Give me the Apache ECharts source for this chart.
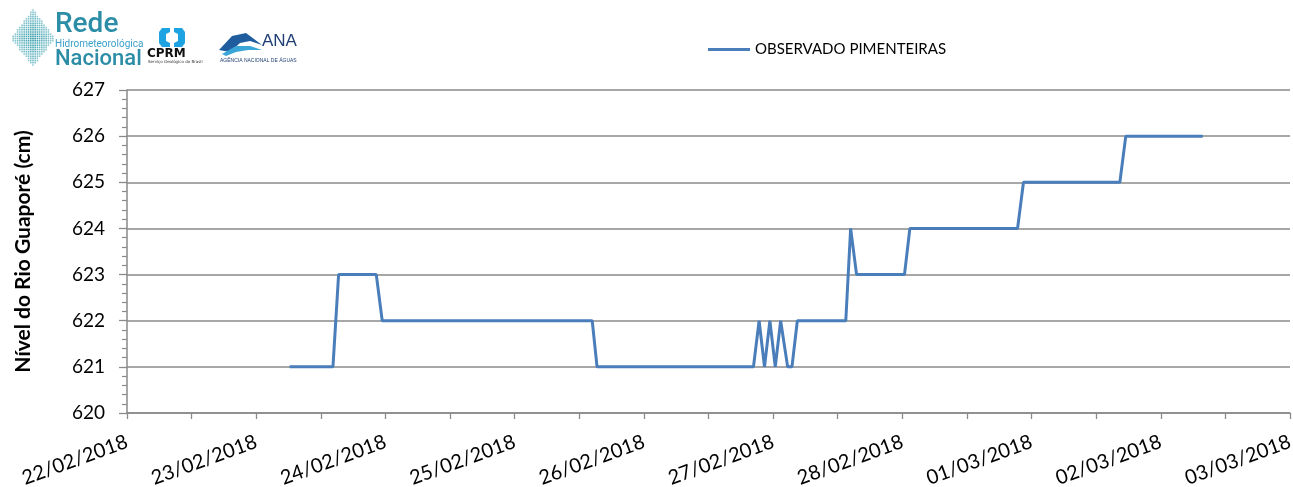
<!DOCTYPE html>
<html>
<head>
<meta charset="utf-8">
<script src="https://cdn.jsdelivr.net/npm/echarts@6/dist/echarts.min.js"></script>
<style>
html,body{margin:0;padding:0;background:#fff;}
#chart{width:1293px;height:487px;}
</style>
</head>
<body>
<div id="chart"></div>
<script>
// ---- data ----
const seriesName = 'OBSERVADO PIMENTEIRAS';
const times = [
  '2018-02-23T06:12', '2018-02-23T14:15', '2018-02-23T15:18', '2018-02-23T22:18',
  '2018-02-23T23:24', '2018-02-25T14:24', '2018-02-25T15:18', '2018-02-26T20:21',
  '2018-02-26T21:24', '2018-02-26T22:24', '2018-02-26T23:24', '2018-02-27T00:24',
  '2018-02-27T01:24', '2018-02-27T02:42', '2018-02-27T03:30', '2018-02-27T04:30',
  '2018-02-27T13:30', '2018-02-27T14:24', '2018-02-27T15:30', '2018-02-28T00:24',
  '2018-02-28T01:24', '2018-02-28T21:24', '2018-02-28T22:30', '2018-03-01T16:24',
  '2018-03-01T17:30', '2018-03-02T07:48'
];
const levels = [
  621, 621, 623, 623,
  622, 622, 621, 621,
  622, 621, 622, 621,
  622, 621, 621, 622,
  622, 624, 623, 623,
  624, 624, 625, 625,
  626, 626
];
const xStart = '2018-02-22T00:00';
const xEnd = '2018-03-03T00:00';
const yMin = 620, yMax = 627, yStep = 1;
const yAxisTitle = 'Nível do Rio Guaporé (cm)';

// ---- helpers ----
function toMs(s) {
  const [d, t] = s.split('T');
  const [Y, M, D] = d.split('-').map(Number);
  const [h, m] = t.split(':').map(Number);
  return Date.UTC(Y, M - 1, D, h, m);
}
function pad(n) { return (n < 10 ? '0' : '') + n; }
const HALF_DAY = 12 * 3600 * 1000;
const DAY = 24 * 3600 * 1000;
const seriesData = times.map((t, i) => [toMs(t), levels[i]]);

const FONT = 'Lato, "Open Sans", sans-serif';
const GRID_COLOR = '#8a8a8a';

// ---- logo graphics (decoration) ----
const graphics = [];
(function () {
  const cx = 33, cy = 38, r = 22;
  for (let gy = -28; gy <= 28; gy += 2.2) {
    for (let gx = -22; gx <= 22; gx += 2.2) {
      const dist = Math.abs(gx) / r + Math.abs(gy) / 29;
      if (dist > 1) continue;
      const shade = 0.35 + 0.65 * (1 - dist);
      const c1 = [40, 150, 165], c2 = [200, 230, 235];
      const col = c1.map((v, k) => Math.round(c2[k] + (v - c2[k]) * shade));
      graphics.push({
        type: 'rect', silent: true,
        shape: { x: cx + gx - 0.8, y: cy + gy - 0.8, width: 1.6, height: 1.6 },
        style: { fill: 'rgb(' + col.join(',') + ')' }
      });
    }
  }
})();
graphics.push(
  { type: 'text', left: 55, top: 11, style: { text: 'Rede', font: '500 28px "Liberation Sans Narrow", Roboto, sans-serif', fill: '#2b8da6' } },
  { type: 'text', left: 55, top: 39, style: { text: 'Hidrometeorológica', font: '10px "Liberation Sans Narrow", Roboto, sans-serif', fill: '#3aa0c9' } },
  { type: 'text', left: 55, top: 48, style: { text: 'Nacional', font: '500 22px "Liberation Sans Narrow", Roboto, sans-serif', fill: '#2b8da6' } },
  { type: 'polygon', shape: { points: [[162,28],[170,28],[170,32],[166,34],[166,41],[170,43],[170,47],[162,47],[159,43],[159,32]] }, style: { fill: '#1ea3e2' } },
  { type: 'polygon', shape: { points: [[174,28],[182,28],[185,32],[185,43],[182,47],[174,47],[174,43],[178,41],[178,34],[174,32]] }, style: { fill: '#1ea3e2' } },
  { type: 'text', left: 147, top: 48, style: { text: 'CPRM', font: 'bold 12px "DejaVu Sans", sans-serif', fill: '#111' } },
  { type: 'text', left: 148, top: 60, style: { text: 'Serviço Geológico do Brasil', font: '4px "DejaVu Sans", sans-serif', fill: '#333' } },
  { type: 'polygon', shape: { points: [[219,50],[232,36],[246,33],[262,45],[250,41],[240,43],[230,52]] }, style: { fill: '#1f5d9e' } },
  { type: 'polygon', shape: { points: [[222,54],[236,46],[250,46],[262,50],[248,50],[236,52],[226,56]] }, style: { fill: '#3aa6d8' } },
  { type: 'text', left: 262, top: 33, style: { text: 'ANA', font: '17px "Liberation Sans", sans-serif', fill: '#1f3f73' } },
  { type: 'text', left: 220, top: 58, style: { text: 'AGÊNCIA NACIONAL DE ÁGUAS', font: '5px "Liberation Sans", sans-serif', fill: '#1f3f73' } }
);

// ---- chart ----
const chart = echarts.init(document.getElementById('chart'), null, { renderer: 'canvas' });
chart.setOption({
  animation: false,
  backgroundColor: '#fff',
  textStyle: { fontFamily: FONT },
  graphic: graphics,
  legend: {
    show: true,
    left: 703, top: 37,
    itemWidth: 42, itemHeight: 3,
    icon: 'rect',
    itemGap: 5,
    textStyle: { fontFamily: FONT, fontSize: 15, color: '#000' },
    data: [seriesName]
  },
  grid: { left: 127, right: 3, top: 90, bottom: 74, containLabel: false, outerBoundsMode: 'none' },
  xAxis: {
    type: 'value',
    min: toMs(xStart), max: toMs(xEnd), interval: HALF_DAY,
    axisLine: { show: true, lineStyle: { color: GRID_COLOR, width: 1.5 } },
    axisTick: { show: true, length: 6, lineStyle: { color: GRID_COLOR, width: 1.3 } },
    splitLine: { show: false },
    axisLabel: {
      rotate: 20, margin: 28,
      fontFamily: FONT, fontSize: 20, color: '#000',
      showMinLabel: true, showMaxLabel: true,
      formatter: function (v) {
        if (Math.round(v) % DAY !== 0) return '';
        const d = new Date(v);
        return pad(d.getUTCDate()) + '/' + pad(d.getUTCMonth() + 1) + '/' + d.getUTCFullYear();
      }
    }
  },
  yAxis: {
    type: 'value',
    min: yMin, max: yMax, interval: yStep,
    name: yAxisTitle,
    nameLocation: 'middle', nameGap: 93, nameRotate: 90,
    nameTextStyle: { fontFamily: FONT, fontSize: 21, fontWeight: 'bold', color: '#000' },
    axisLine: { show: true, lineStyle: { color: GRID_COLOR, width: 1.5 } },
    axisTick: { show: true, length: 8, lineStyle: { color: GRID_COLOR, width: 1.3 } },
    minorTick: { show: true, splitNumber: 5, length: 5, lineStyle: { color: GRID_COLOR, width: 1.2 } },
    splitLine: { show: true, lineStyle: { color: GRID_COLOR, width: 1.5 } },
    axisLabel: { margin: 22, fontFamily: FONT, fontSize: 19, color: '#000' }
  },
  series: [{
    name: seriesName,
    type: 'line',
    data: seriesData,
    showSymbol: false,
    symbol: 'none',
    lineStyle: { color: '#4a7ebb', width: 3 },
    itemStyle: { color: '#4a7ebb' }
  }]
});
</script>
</body>
</html>
